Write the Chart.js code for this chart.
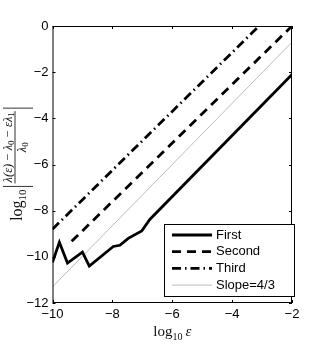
<!DOCTYPE html>
<html>
<head>
<meta charset="utf-8">
<script src="https://cdn.jsdelivr.net/npm/chart.js@4.4.0/dist/chart.umd.min.js"></script>
<style>
  html, body { margin: 0; padding: 0; background: #fff; }
  canvas { display: block; }
</style>
</head>
<body>
<canvas id="chart" width="324" height="347"></canvas>
<script>
// values (log10 eps vs log10 relative error)
const firstX = [-10, -9.77, -9.5, -9.0, -8.77, -7.97, -7.75, -7.47, -7.02, -6.75, -2];
const firstY = [-10.24, -9.37, -10.27, -9.8, -10.4, -9.55, -9.5, -9.2, -8.88, -8.38, -2.1];
const secondX = [-9.36, -2];
const secondY = [-9.33, 0];
const thirdX = [-10, -3.1];
const thirdY = [-8.8, 0];
const slopeX = [-10, -2];
const slopeY = [-11.3, -0.7];

const xTicks = [-10, -8, -6, -4, -2];
const yTicks = [-12, -10, -8, -6, -4, -2, 0];
const labels = ['First', 'Second', 'Third', 'Slope=4/3'];

const pts = (xs, ys) => xs.map((x, i) => ({ x: x, y: ys[i] }));
const minus = v => String(v).replace('-', '\u2212');

// matlab style box with inward ticks
const framePlugin = {
  id: 'frame',
  afterDatasetsDraw(chart) {
    const { ctx, chartArea: a, scales } = chart;
    ctx.save();
    ctx.strokeStyle = '#000';
    ctx.lineWidth = 1;
    ctx.strokeRect(a.left + 0.5, a.top + 0.5, a.right - a.left - 1, a.bottom - a.top - 1);
    ctx.beginPath();
    scales.x.ticks.forEach(t => {
      const px = Math.round(scales.x.getPixelForValue(t.value)) + 0.5;
      ctx.moveTo(px, a.bottom); ctx.lineTo(px, a.bottom - 3);
      ctx.moveTo(px, a.top); ctx.lineTo(px, a.top + 3);
    });
    scales.y.ticks.forEach(t => {
      const py = Math.round(scales.y.getPixelForValue(t.value)) + 0.5;
      ctx.moveTo(a.left, py); ctx.lineTo(a.left + 3, py);
      ctx.moveTo(a.right, py); ctx.lineTo(a.right - 3, py);
    });
    ctx.stroke();
    ctx.restore();
  },
  afterDraw(chart) {
    const { ctx, chartArea: a } = chart;
    ctx.save();
    // legend box
    const bx = 164, by = 224, bw = 131, bh = 73;
    ctx.fillStyle = '#fff';
    ctx.fillRect(bx, by, bw, bh);
    ctx.strokeStyle = '#000';
    ctx.lineWidth = 1;
    ctx.strokeRect(bx + 0.5, by + 0.5, bw - 1, bh - 1);
    ctx.font = '13px "Liberation Sans", Arial, sans-serif';
    ctx.textBaseline = 'middle';
    chart.data.datasets.forEach((ds, i) => {
      const yy = by + 11 + i * 16.7;
      ctx.beginPath();
      ctx.strokeStyle = ds.borderColor;
      ctx.lineWidth = ds.borderWidth;
      ctx.setLineDash(ds.borderDash || []);
      ctx.moveTo(172, yy); ctx.lineTo(212, yy);
      ctx.stroke();
      ctx.setLineDash([]);
      ctx.fillStyle = '#000';
      ctx.fillText(ds.label, 216, yy);
    });

    // x axis title: log10 eps
    ctx.fillStyle = '#111';
    ctx.textBaseline = 'alphabetic';
    const serif = '"Liberation Serif", "DejaVu Serif", serif';
    const big = '15px ' + serif, small = '10px ' + serif, ital = 'italic 15px ' + serif;
    ctx.font = big; const w1 = ctx.measureText('log').width;
    ctx.font = small; const w2 = ctx.measureText('10').width;
    ctx.font = ital; const w3 = ctx.measureText('\u03b5').width;
    let x0 = (a.left + a.right) / 2 - (w1 + w2 + 3 + w3) / 2;
    const base = 336;
    ctx.font = big; ctx.fillText('log', x0, base);
    ctx.font = small; ctx.fillText('10', x0 + w1, base + 4);
    ctx.font = ital; ctx.fillText('\u03b5', x0 + w1 + w2 + 3, base);

    // y axis title: log10 | (lambda(eps) - lambda0 - eps lambda1) / lambda0 |
    const ybig = '16px ' + serif, ysmall = '11px ' + serif;
    const num = [['\u03bb(\u03b5)\u2009\u2212\u2009\u03bb', 0], ['0', 1], ['\u2009\u2212\u2009\u03b5\u03bb', 0], ['1', 1]];
    const nf = 'italic 12.5px ' + serif, sf = '9px ' + serif;
    let nw = 0;
    num.forEach(p => { ctx.font = p[1] ? sf : nf; nw += ctx.measureText(p[0]).width; });
    ctx.font = ybig; const lg = ctx.measureText('log').width;
    ctx.font = ysmall; const tn = ctx.measureText('10').width;
    const total = lg + tn + 3 + nw + 8;
    ctx.translate(18, (a.top + a.bottom) / 2);
    ctx.rotate(-Math.PI / 2);
    let u = -total / 2;
    ctx.font = ybig; ctx.fillText('log', u, 4); u += lg;
    ctx.font = ysmall; ctx.fillText('10', u, 8); u += tn + 3;
    ctx.strokeStyle = '#333';
    ctx.lineWidth = 1;
    ctx.beginPath();
    ctx.moveTo(u, -15); ctx.lineTo(u, 15);
    ctx.stroke();
    let nu = u + 4;
    num.forEach(p => {
      ctx.font = p[1] ? sf : nf;
      ctx.fillText(p[0], nu, p[1] ? -4 : -6);
      nu += ctx.measureText(p[0]).width;
    });
    ctx.beginPath();
    ctx.moveTo(u + 3, -3); ctx.lineTo(u + 5 + nw, -3);
    ctx.stroke();
    const cu = u + 4 + nw / 2;
    ctx.font = nf; const lw = ctx.measureText('\u03bb').width;
    ctx.font = sf; const zw = ctx.measureText('0').width;
    ctx.font = nf; ctx.fillText('\u03bb', cu - (lw + zw) / 2, 8);
    ctx.font = sf; ctx.fillText('0', cu - (lw + zw) / 2 + lw, 10);
    const u2 = u + 8 + nw;
    ctx.beginPath();
    ctx.moveTo(u2, -15); ctx.lineTo(u2, 15);
    ctx.stroke();
    ctx.restore();
  }
};

const tickFont = { family: '"Liberation Sans", Arial, sans-serif', size: 13 };

new Chart(document.getElementById('chart'), {
  type: 'scatter',
  data: {
    datasets: [
      { label: labels[0], data: pts(firstX, firstY), borderColor: '#000', borderWidth: 2.8 },
      { label: labels[1], data: pts(secondX, secondY), borderColor: '#000', borderWidth: 2.8, borderDash: [9, 6] },
      { label: labels[2], data: pts(thirdX, thirdY), borderColor: '#000', borderWidth: 2.8, borderDash: [9, 4, 1.5, 4] },
      { label: labels[3], data: pts(slopeX, slopeY), borderColor: '#bbb', borderWidth: 1 }
    ].map(d => Object.assign(d, { showLine: true, pointRadius: 0, fill: false, tension: 0 }))
  },
  options: {
    responsive: false,
    animation: false,
    devicePixelRatio: 1,
    layout: { padding: { top: 26, right: 32, left: 0, bottom: 0 } },
    plugins: { legend: { display: false }, tooltip: { enabled: false } },
    scales: {
      x: {
        type: 'linear', min: -10, max: -2,
        afterBuildTicks: s => { s.ticks = xTicks.map(v => ({ value: v })); },
        afterFit: s => { s.height = 44; },
        ticks: { font: tickFont, color: '#000', padding: 4, maxRotation: 0, callback: v => minus(v) },
        grid: { display: false, drawTicks: false },
        border: { display: false }
      },
      y: {
        type: 'linear', min: -12, max: 0,
        afterBuildTicks: s => { s.ticks = yTicks.map(v => ({ value: v })); },
        afterFit: s => { s.width = 52.5; },
        ticks: { font: tickFont, color: '#000', padding: 4, callback: v => minus(v) },
        grid: { display: false, drawTicks: false },
        border: { display: false }
      }
    }
  },
  plugins: [framePlugin]
});
</script>
</body>
</html>
